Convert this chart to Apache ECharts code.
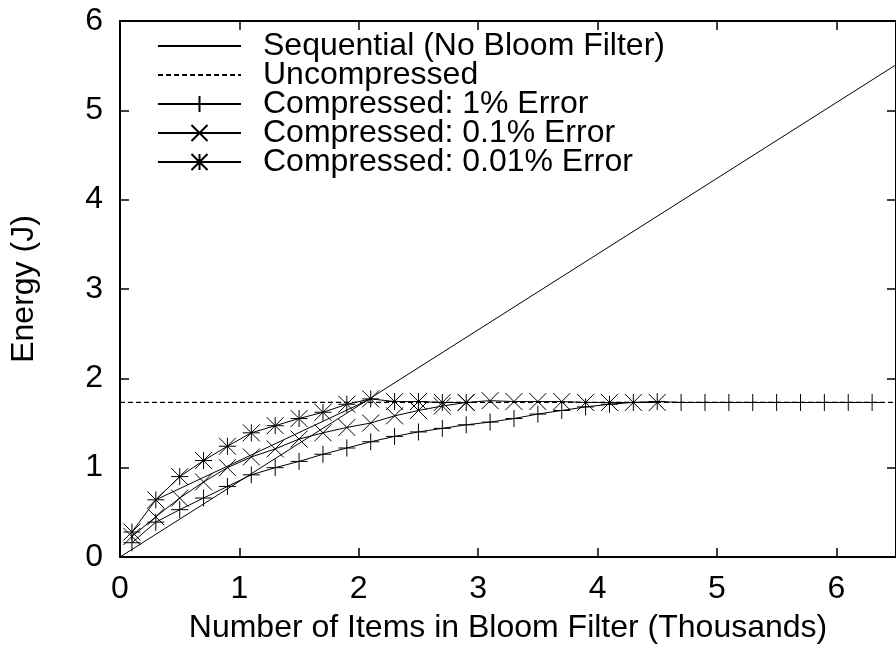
<!DOCTYPE html>
<html>
<head>
<meta charset="utf-8">
<script src="https://cdn.jsdelivr.net/npm/echarts@6/dist/echarts.min.js"></script>
<style>
  html, body { margin: 0; padding: 0; background: #fff; }
  #chart { width: 896px; height: 652px; }
</style>
</head>
<body>
<div id="chart"></div>
<script>
// values (x in thousands of items, y in joules)
const seqX = [0, 6.5];
const seqY = [0, 5.51];

const uncompX = [0, 6.5];
const uncompY = [1.73, 1.73];

const err1X = [0.1, 0.3, 0.5, 0.7, 0.9, 1.1, 1.3, 1.5, 1.7, 1.9, 2.1, 2.3, 2.5, 2.7, 2.9, 3.1,
  3.3, 3.5, 3.7, 3.9, 4.1, 4.3, 4.5, 4.7, 4.9, 5.1, 5.3, 5.5, 5.7, 5.9, 6.1, 6.3];
const err1Y = [0.16, 0.39, 0.53, 0.66, 0.79, 0.92, 1.00, 1.07, 1.15, 1.22, 1.29, 1.35, 1.40, 1.44, 1.48, 1.51,
  1.55, 1.60, 1.64, 1.68, 1.71, 1.73, 1.74, 1.73, 1.73, 1.73, 1.73, 1.73, 1.73, 1.73, 1.73, 1.73];

const err01X = [0.1, 0.3, 0.5, 0.7, 0.9, 1.1, 1.3, 1.5, 1.7, 1.9, 2.1, 2.3, 2.5, 2.7, 2.9, 3.1,
  3.3, 3.5, 3.7, 3.9, 4.1, 4.3, 4.5];
const err01Y = [0.23, 0.45, 0.66, 0.84, 1.00, 1.12, 1.21, 1.32, 1.39, 1.45, 1.50, 1.58, 1.64, 1.69, 1.73, 1.75,
  1.74, 1.74, 1.74, 1.73, 1.73, 1.73, 1.73];

const err001X = [0.1, 0.3, 0.5, 0.7, 0.9, 1.1, 1.3, 1.5, 1.7, 1.9, 2.1, 2.3, 2.5, 2.7, 2.9];
const err001Y = [0.28, 0.64, 0.90, 1.08, 1.24, 1.39, 1.47, 1.55, 1.62, 1.71, 1.77, 1.74, 1.74, 1.73, 1.73];

// extra straight segment visible in the plot (no legend entry)
const strayX = [0.3, 2.1];
const strayY = [0.64, 1.77];

const xTicks = [0, 1, 2, 3, 4, 5, 6];
const yTicks = [0, 1, 2, 3, 4, 5, 6];

const names = [
  'Sequential (No Bloom Filter)',
  'Uncompressed',
  'Compressed: 1% Error',
  'Compressed: 0.1% Error',
  'Compressed: 0.01% Error'
];

const FONT = 'Liberation Sans';
const FSIZE = 32;
const PLUS = 'path://M8,0L8,16M0,8L16,8';
const CROSS = 'path://M0,0L16,16M0,16L16,0';
const STAR = 'path://M8,0L8,16M0,8L16,8M0,0L16,16M0,16L16,0';

const pairs = (xs, ys) => xs.map((x, i) => [x, ys[i]]);

const chart = echarts.init(document.getElementById('chart'));

const lineSeries = (name, xs, ys, symbol, extra) => Object.assign({
  name: name,
  type: 'line',
  data: pairs(xs, ys),
  symbol: symbol || 'none',
  symbolSize: 17,
  showSymbol: !!symbol,
  silent: true,
  lineStyle: { color: '#000', width: 1 },
  itemStyle: { color: '#000', borderColor: '#000', borderWidth: 1 },
  emphasis: { disabled: true }
}, extra || {});

const tickAxisX = (pos, show) => ({
  type: 'value',
  position: pos,
  min: 0,
  max: 6.5,
  interval: 1,
  axisLine: { show: true, onZero: false, lineStyle: { color: '#000', width: 2 } },
  axisTick: { show: true, inside: true, length: 9, lineStyle: { color: '#000', width: 1.5 } },
  axisLabel: {
    show: show,
    margin: 16,
    color: '#000',
    fontFamily: FONT,
    fontSize: FSIZE,
    showMaxLabel: false,
    formatter: v => (xTicks.indexOf(v) >= 0 ? String(v) : '')
  },
  splitLine: { show: false }
});

const tickAxisY = (pos, show) => ({
  type: 'value',
  position: pos,
  min: 0,
  max: 6,
  interval: 1,
  axisLine: { show: true, onZero: false, lineStyle: { color: '#000', width: 2 } },
  axisTick: { show: true, inside: true, length: 9, lineStyle: { color: '#000', width: 1.5 } },
  axisLabel: {
    show: show,
    margin: 17,
    color: '#000',
    fontFamily: FONT,
    fontSize: FSIZE,
    formatter: v => (yTicks.indexOf(v) >= 0 ? String(v) : '')
  },
  splitLine: { show: false }
});

const xBottom = Object.assign(tickAxisX('bottom', true), {
  name: 'Number of Items in Bloom Filter (Thousands)',
  nameLocation: 'middle',
  nameGap: 55,
  nameTextStyle: { color: '#000', fontFamily: FONT, fontSize: FSIZE }
});
const yLeft = Object.assign(tickAxisY('left', true), {
  name: 'Energy (J)',
  nameLocation: 'middle',
  nameGap: 80,
  nameRotate: 90,
  nameTextStyle: { color: '#000', fontFamily: FONT, fontSize: FSIZE }
});

// plain line samples in the key for the two series without markers
const legendData = names.map((n, i) => (i < 2 ? { name: n, itemStyle: { opacity: 0 } } : n));

chart.setOption({
  animation: false,
  backgroundColor: '#fff',
  grid: { left: 118, right: -2, top: 21, bottom: 95, containLabel: false },
  xAxis: [xBottom, tickAxisX('top', false)],
  yAxis: [yLeft, tickAxisY('right', false)],
  legend: {
    data: legendData,
    orient: 'vertical',
    left: 157,
    top: 30,
    padding: 0,
    itemGap: -3,
    itemWidth: 83,
    itemHeight: 20,
    selectedMode: false,
    textStyle: {
      color: '#000',
      fontFamily: FONT,
      fontSize: FSIZE,
      lineHeight: 29,
      padding: [0, 0, 0, 17]
    }
  },
  series: [
    lineSeries(names[0], seqX, seqY, null),
    lineSeries(names[1], uncompX, uncompY, null, {
      lineStyle: { color: '#000', width: 1.2, type: [5, 3] }
    }),
    lineSeries(names[2], err1X, err1Y, PLUS),
    lineSeries(names[3], err01X, err01Y, CROSS),
    lineSeries(names[4], err001X, err001Y, STAR),
    lineSeries('stray', strayX, strayY, null)
  ]
});
</script>
</body>
</html>
